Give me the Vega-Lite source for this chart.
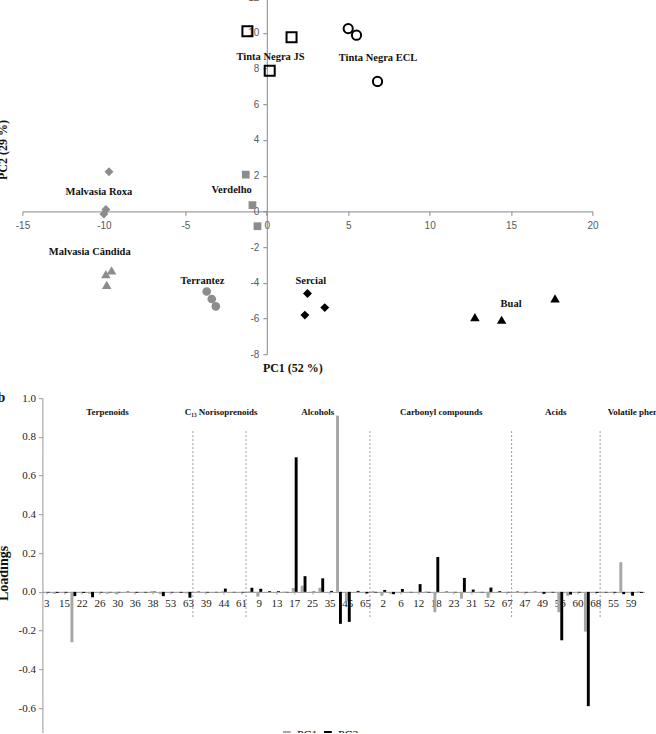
{
  "$schema": "https://vega.github.io/schema/vega-lite/v6.json",
  "background": "white",
  "padding": {"left": -3.6, "top": -7.8, "right": -12, "bottom": -8},
  "config": {"view": {"stroke": null}, "font": "Liberation Serif"},
  "spacing": 16,
  "resolve": {"scale": {"color": "independent"}, "legend": {"color": "independent"}},
  "datasets": {
    "scores": [
      {"cultivar": "Tinta Negra JS", "pc1": -1.19, "pc2": 10.09},
      {"cultivar": "Tinta Negra JS", "pc1": 1.52, "pc2": 9.75},
      {"cultivar": "Tinta Negra JS", "pc1": 0.18, "pc2": 7.88},
      {"cultivar": "Tinta Negra ECL", "pc1": 5.0, "pc2": 10.24},
      {"cultivar": "Tinta Negra ECL", "pc1": 5.51, "pc2": 9.87},
      {"cultivar": "Tinta Negra ECL", "pc1": 6.8, "pc2": 7.28},
      {"cultivar": "Malvasia Roxa", "pc1": -9.69, "pc2": 2.22},
      {"cultivar": "Malvasia Roxa", "pc1": -9.88, "pc2": 0.11},
      {"cultivar": "Malvasia Roxa", "pc1": -10.0, "pc2": -0.15},
      {"cultivar": "Verdelho", "pc1": -1.29, "pc2": 2.06},
      {"cultivar": "Verdelho", "pc1": -0.88, "pc2": 0.35},
      {"cultivar": "Verdelho", "pc1": -0.57, "pc2": -0.83},
      {"cultivar": "Malvasia Cândida", "pc1": -9.53, "pc2": -3.3},
      {"cultivar": "Malvasia Cândida", "pc1": -9.88, "pc2": -3.52},
      {"cultivar": "Malvasia Cândida", "pc1": -9.83, "pc2": -4.12},
      {"cultivar": "Terrantez", "pc1": -3.69, "pc2": -4.49},
      {"cultivar": "Terrantez", "pc1": -3.38, "pc2": -4.91},
      {"cultivar": "Terrantez", "pc1": -3.13, "pc2": -5.32},
      {"cultivar": "Sercial", "pc1": 2.5, "pc2": -4.6},
      {"cultivar": "Sercial", "pc1": 2.34, "pc2": -5.81},
      {"cultivar": "Sercial", "pc1": 3.56, "pc2": -5.39},
      {"cultivar": "Bual", "pc1": 12.78, "pc2": -5.92},
      {"cultivar": "Bual", "pc1": 14.42, "pc2": -6.07},
      {"cultivar": "Bual", "pc1": 17.7, "pc2": -4.87}
    ],
    "scoreLabels": [
      {"cultivar": "Tinta Negra JS", "pc1": 0.23, "pc2": 8.65},
      {"cultivar": "Tinta Negra ECL", "pc1": 6.83, "pc2": 8.57},
      {"cultivar": "Malvasia Roxa", "pc1": -10.31, "pc2": 1.08},
      {"cultivar": "Verdelho", "pc1": -2.16, "pc2": 1.2},
      {"cultivar": "Malvasia Cândida", "pc1": -10.87, "pc2": -2.29},
      {"cultivar": "Terrantez", "pc1": -3.95, "pc2": -3.9},
      {"cultivar": "Sercial", "pc1": 2.7, "pc2": -3.9},
      {"cultivar": "Bual", "pc1": 15.0, "pc2": -5.21}
    ],
    "loadings": [
      {"idx": 1, "cmp": "3", "PC1": -0.005, "PC2": -0.003},
      {"idx": 2, "cmp": "1", "PC1": -0.01, "PC2": -0.005},
      {"idx": 3, "cmp": "15", "PC1": -0.003, "PC2": -0.004},
      {"idx": 4, "cmp": "4", "PC1": -0.26, "PC2": -0.022},
      {"idx": 5, "cmp": "22", "PC1": -0.003, "PC2": -0.005},
      {"idx": 6, "cmp": "5", "PC1": -0.01, "PC2": -0.028},
      {"idx": 7, "cmp": "26", "PC1": -0.005, "PC2": -0.003},
      {"idx": 8, "cmp": "7", "PC1": -0.01, "PC2": -0.002},
      {"idx": 9, "cmp": "30", "PC1": -0.012, "PC2": -0.002},
      {"idx": 10, "cmp": "8", "PC1": -0.005, "PC2": 0.002},
      {"idx": 11, "cmp": "36", "PC1": -0.003, "PC2": -0.004},
      {"idx": 12, "cmp": "10", "PC1": -0.004, "PC2": -0.003},
      {"idx": 13, "cmp": "38", "PC1": 0.004, "PC2": 0.002},
      {"idx": 14, "cmp": "11", "PC1": -0.012, "PC2": -0.022},
      {"idx": 15, "cmp": "53", "PC1": -0.003, "PC2": -0.003},
      {"idx": 16, "cmp": "14", "PC1": -0.006, "PC2": -0.004},
      {"idx": 17, "cmp": "63", "PC1": -0.008, "PC2": -0.03},
      {"idx": 18, "cmp": "16", "PC1": -0.003, "PC2": 0.002},
      {"idx": 19, "cmp": "39", "PC1": -0.004, "PC2": -0.003},
      {"idx": 20, "cmp": "19", "PC1": -0.002, "PC2": -0.002},
      {"idx": 21, "cmp": "44", "PC1": 0.003, "PC2": 0.017},
      {"idx": 22, "cmp": "20", "PC1": -0.003, "PC2": -0.002},
      {"idx": 23, "cmp": "61", "PC1": -0.005, "PC2": -0.003},
      {"idx": 24, "cmp": "21", "PC1": 0.003, "PC2": 0.021},
      {"idx": 25, "cmp": "9", "PC1": -0.025, "PC2": 0.016},
      {"idx": 26, "cmp": "24", "PC1": -0.003, "PC2": 0.004},
      {"idx": 27, "cmp": "13", "PC1": -0.002, "PC2": 0.004},
      {"idx": 28, "cmp": "27", "PC1": 0.002, "PC2": -0.002},
      {"idx": 29, "cmp": "17", "PC1": 0.02, "PC2": 0.695},
      {"idx": 30, "cmp": "28", "PC1": 0.032, "PC2": 0.081},
      {"idx": 31, "cmp": "25", "PC1": -0.002, "PC2": 0.002},
      {"idx": 32, "cmp": "29", "PC1": 0.021, "PC2": 0.07},
      {"idx": 33, "cmp": "35", "PC1": -0.002, "PC2": 0.005},
      {"idx": 34, "cmp": "32", "PC1": 0.91, "PC2": -0.165},
      {"idx": 35, "cmp": "45", "PC1": -0.05, "PC2": -0.155},
      {"idx": 36, "cmp": "33", "PC1": -0.003, "PC2": 0.005},
      {"idx": 37, "cmp": "65", "PC1": -0.005, "PC2": -0.008},
      {"idx": 38, "cmp": "34", "PC1": 0.005, "PC2": -0.003},
      {"idx": 39, "cmp": "2", "PC1": -0.02, "PC2": 0.01},
      {"idx": 40, "cmp": "37", "PC1": -0.01, "PC2": -0.012},
      {"idx": 41, "cmp": "6", "PC1": -0.003, "PC2": 0.015},
      {"idx": 42, "cmp": "40", "PC1": -0.002, "PC2": -0.002},
      {"idx": 43, "cmp": "12", "PC1": -0.003, "PC2": 0.04},
      {"idx": 44, "cmp": "41", "PC1": 0.003, "PC2": -0.003},
      {"idx": 45, "cmp": "18", "PC1": -0.105, "PC2": 0.18},
      {"idx": 46, "cmp": "42", "PC1": -0.003, "PC2": 0.002},
      {"idx": 47, "cmp": "23", "PC1": -0.004, "PC2": -0.002},
      {"idx": 48, "cmp": "43", "PC1": -0.035, "PC2": 0.072},
      {"idx": 49, "cmp": "31", "PC1": -0.003, "PC2": 0.012},
      {"idx": 50, "cmp": "46", "PC1": -0.003, "PC2": -0.002},
      {"idx": 51, "cmp": "52", "PC1": -0.03, "PC2": 0.022},
      {"idx": 52, "cmp": "48", "PC1": -0.002, "PC2": 0.004},
      {"idx": 53, "cmp": "67", "PC1": -0.003, "PC2": -0.002},
      {"idx": 54, "cmp": "50", "PC1": -0.003, "PC2": 0.002},
      {"idx": 55, "cmp": "47", "PC1": -0.004, "PC2": -0.003},
      {"idx": 56, "cmp": "51", "PC1": -0.003, "PC2": 0.002},
      {"idx": 57, "cmp": "49", "PC1": -0.003, "PC2": -0.01},
      {"idx": 58, "cmp": "54", "PC1": -0.005, "PC2": -0.003},
      {"idx": 59, "cmp": "56", "PC1": -0.105, "PC2": -0.25},
      {"idx": 60, "cmp": "57", "PC1": -0.02, "PC2": -0.014},
      {"idx": 61, "cmp": "60", "PC1": -0.005, "PC2": -0.003},
      {"idx": 62, "cmp": "58", "PC1": -0.205, "PC2": -0.59},
      {"idx": 63, "cmp": "68", "PC1": -0.003, "PC2": -0.005},
      {"idx": 64, "cmp": "62", "PC1": -0.003, "PC2": -0.003},
      {"idx": 65, "cmp": "55", "PC1": -0.005, "PC2": -0.004},
      {"idx": 66, "cmp": "64", "PC1": 0.153, "PC2": -0.012},
      {"idx": 67, "cmp": "59", "PC1": -0.005, "PC2": -0.02},
      {"idx": 68, "cmp": "66", "PC1": 0.003, "PC2": -0.005}
    ],
    "dividers": [
      {"pos": 17, "v": 0.83, "v2": -0.14},
      {"pos": 23, "v": 0.83, "v2": -0.14},
      {"pos": 37, "v": 0.83, "v2": -0.14},
      {"pos": 53, "v": 0.83, "v2": -0.14},
      {"pos": 63, "v": 0.83, "v2": -0.14}
    ],
    "groups": [
      {"pos": 7.36, "v": 0.928, "name": "Terpenoids"},
      {"pos": 20.19, "v": 0.928, "name": "C₁₃ Norisoprenoids"},
      {"pos": 31.1, "v": 0.928, "name": "Alcohols"},
      {"pos": 45.05, "v": 0.928, "name": "Carbonyl compounds"},
      {"pos": 57.99, "v": 0.928, "name": "Acids"},
      {"pos": 67.29, "v": 0.928, "name": "Volatile phenols"}
    ]
  },
  "vconcat": [
    {
      "width": 552,
      "height": 357,
      "encoding": {
        "x": {
          "field": "pc1", "type": "quantitative",
          "scale": {"domain": [-15, 20], "range": [-19.9, 550.1], "nice": false, "zero": false},
          "axis": {
            "title": null, "values": [-15, -10, -5, 0, 5, 10, 15, 20],
            "offset": -142.8,
            "labelExpr": "datum.value < 0 ? '-' + abs(datum.value) : '' + datum.value",
            "labelFont": "Liberation Sans", "labelFontSize": 10, "labelColor": "#595959",
            "labelFlush": false, "labelOverlap": false, "labelPadding": 5,
            "tickSize": 4, "tickColor": "#888888", "domainColor": "#888888", "grid": false
          }
        },
        "y": {
          "field": "pc2", "type": "quantitative",
          "scale": {"domain": [-8, 12], "nice": false, "zero": false},
          "axis": {
            "title": null, "values": [-8, -6, -4, -2, 0, 2, 4, 6, 8, 10, 12],
            "offset": -224.4,
            "labelExpr": "datum.value < 0 ? '-' + abs(datum.value) : '' + datum.value",
            "labelFont": "Liberation Sans", "labelFontSize": 10, "labelColor": "#595959",
            "labelFlush": false, "labelOverlap": false, "labelPadding": 4,
            "tickSize": 4, "tickColor": "#888888", "domainColor": "#888888", "grid": false
          }
        },
        "color": {
          "field": "cultivar", "type": "nominal", "legend": null,
          "scale": {
            "domain": ["Tinta Negra JS", "Tinta Negra ECL", "Malvasia Roxa", "Verdelho", "Malvasia Cândida", "Terrantez", "Sercial", "Bual"],
            "range": ["#000000", "#000000", "#8c8c8c", "#8c8c8c", "#8c8c8c", "#8c8c8c", "#000000", "#000000"]
          }
        }
      },
      "layer": [
        {
          "data": {"name": "scores"},
          "transform": [{"filter": {"field": "cultivar", "oneOf": ["Tinta Negra JS"]}}],
          "mark": {"type": "point", "shape": "square", "filled": false, "strokeWidth": 2, "size": 100, "opacity": 1}
        },
        {
          "data": {"name": "scores"},
          "transform": [{"filter": {"field": "cultivar", "oneOf": ["Tinta Negra ECL"]}}],
          "mark": {"type": "point", "shape": "circle", "filled": false, "strokeWidth": 2, "size": 85, "opacity": 1}
        },
        {
          "data": {"name": "scores"},
          "transform": [{"filter": {"field": "cultivar", "oneOf": ["Malvasia Roxa", "Sercial"]}}],
          "mark": {"type": "point", "shape": "diamond", "filled": true, "strokeWidth": 0, "size": 80, "opacity": 1}
        },
        {
          "data": {"name": "scores"},
          "transform": [{"filter": {"field": "cultivar", "oneOf": ["Verdelho"]}}],
          "mark": {"type": "point", "shape": "square", "filled": true, "strokeWidth": 0, "size": 60, "opacity": 1}
        },
        {
          "data": {"name": "scores"},
          "transform": [{"filter": {"field": "cultivar", "oneOf": ["Malvasia Cândida", "Bual"]}}],
          "mark": {"type": "point", "shape": "triangle-up", "filled": true, "strokeWidth": 0, "size": 90, "opacity": 1}
        },
        {
          "data": {"name": "scores"},
          "transform": [{"filter": {"field": "cultivar", "oneOf": ["Terrantez"]}}],
          "mark": {"type": "point", "shape": "circle", "filled": true, "strokeWidth": 0, "size": 75, "opacity": 1}
        },
        {
          "data": {"name": "scoreLabels"},
          "mark": {"type": "text", "font": "Liberation Serif", "fontWeight": "bold", "fontSize": 10.5, "baseline": "middle"},
          "encoding": {
            "text": {"field": "cultivar", "type": "nominal"},
            "color": {"value": "#111111"}
          }
        },
        {
          "data": {"values": [{"pc1": 1.6, "pc2": -8.8, "title": "PC1 (52 %)"}]},
          "mark": {"type": "text", "font": "Liberation Serif", "fontWeight": "bold", "fontSize": 12, "baseline": "middle"},
          "encoding": {
            "text": {"field": "title", "type": "nominal"},
            "color": {"value": "#111111"}
          }
        },
        {
          "data": {"values": [{"pc1": -15.98, "pc2": 3.44, "title": "PC2 (29 %)"}]},
          "mark": {"type": "text", "font": "Liberation Serif", "fontWeight": "bold", "fontSize": 12, "baseline": "alphabetic", "angle": 270},
          "encoding": {
            "text": {"field": "title", "type": "nominal"},
            "color": {"value": "#111111"}
          }
        }
      ]
    },
    {
      "width": 602,
      "height": 337,
      "resolve": {"scale": {"x": "independent"}},
      "encoding": {
        "y": {
          "field": "v", "type": "quantitative",
          "scale": {"domain": [-0.74, 1.0], "nice": false},
          "axis": {
            "title": null, "values": [-0.6, -0.4, -0.2, 0, 0.2, 0.4, 0.6, 0.8, 1.0],
            "labelExpr": "datum.value < 0 ? '-' + format(-datum.value, '.1f') : format(datum.value, '.1f')",
            "labelFont": "Liberation Serif", "labelFontSize": 11, "labelColor": "#222222", "labelPadding": 3,
            "tickSize": 4, "tickColor": "#999999", "domainColor": "#999999", "grid": false
          }
        }
      },
      "layer": [
        {
          "data": {"name": "loadings"},
          "transform": [{"fold": ["PC1", "PC2"], "as": ["pc", "v"]}],
          "mark": {"type": "bar"},
          "encoding": {
            "x": {
              "field": "cmp", "type": "nominal",
              "sort": {"field": "idx", "op": "min", "order": "ascending"},
              "scale": {"paddingInner": 0, "paddingOuter": 0},
              "axis": {
                "title": null, "offset": -143.3, "labelAngle": 0,
                "values": ["3","15","22","26","30","36","38","53","63","39","44","61","9","13","17","25","35","45","65","2","6","12","18","23","31","52","67","47","49","56","60","68","55","59"],
                "labelFont": "Liberation Serif", "labelFontSize": 11, "labelColor": "#222222",
                "labelPadding": 4, "labelOverlap": false,
                "tickSize": 2, "tickColor": "#999999", "domainColor": "#999999", "grid": false
              }
            },
            "xOffset": {"field": "pc", "type": "nominal", "scale": {"paddingInner": 0, "paddingOuter": 0.52}},
            "y": {"field": "v", "type": "quantitative", "stack": null},
            "color": {
              "field": "pc", "type": "nominal",
              "scale": {"domain": ["PC1", "PC2"], "range": ["#a6a6a6", "#000000"]},
              "legend": {
                "orient": "none", "legendX": 238.5, "legendY": 330.7, "direction": "horizontal", "title": null,
                "symbolType": "square", "symbolSize": 60, "symbolStrokeWidth": 0,
                "labelFont": "Liberation Serif", "labelFontSize": 12, "labelColor": "#111111",
                "labelOffset": 4, "columnPadding": 4
              }
            }
          }
        },
        {
          "data": {"name": "dividers"},
          "mark": {"type": "rule", "strokeDash": [2, 2], "color": "#7f7f7f", "strokeWidth": 0.8},
          "encoding": {
            "x": {"field": "pos", "type": "quantitative", "scale": {"domain": [0, 68], "nice": false, "zero": false}, "axis": null},
            "y2": {"field": "v2"}
          }
        },
        {
          "data": {"name": "groups"},
          "mark": {"type": "text", "font": "Liberation Serif", "fontWeight": "bold", "fontSize": 9, "color": "#111111", "baseline": "middle"},
          "encoding": {
            "x": {"field": "pos", "type": "quantitative", "scale": {"domain": [0, 68], "nice": false, "zero": false}, "axis": null},
            "text": {"field": "name", "type": "nominal"}
          }
        },
        {
          "data": {"values": [{"pos": -3.843, "v": 0.0955, "title": "Loadings"}]},
          "mark": {"type": "text", "font": "Liberation Serif", "fontWeight": "bold", "fontSize": 14, "color": "#111111", "baseline": "alphabetic", "angle": 270},
          "encoding": {
            "x": {"field": "pos", "type": "quantitative", "scale": {"domain": [0, 68], "nice": false, "zero": false}, "axis": null},
            "text": {"field": "title", "type": "nominal"}
          }
        },
        {
          "data": {"values": [{"pos": -4.645, "v": 1.0, "tag": "b"}]},
          "mark": {"type": "text", "font": "Liberation Serif", "fontWeight": "bold", "fontSize": 14, "color": "#111111", "baseline": "middle"},
          "encoding": {
            "x": {"field": "pos", "type": "quantitative", "scale": {"domain": [0, 68], "nice": false, "zero": false}, "axis": null},
            "text": {"field": "tag", "type": "nominal"}
          }
        }
      ]
    }
  ]
}
